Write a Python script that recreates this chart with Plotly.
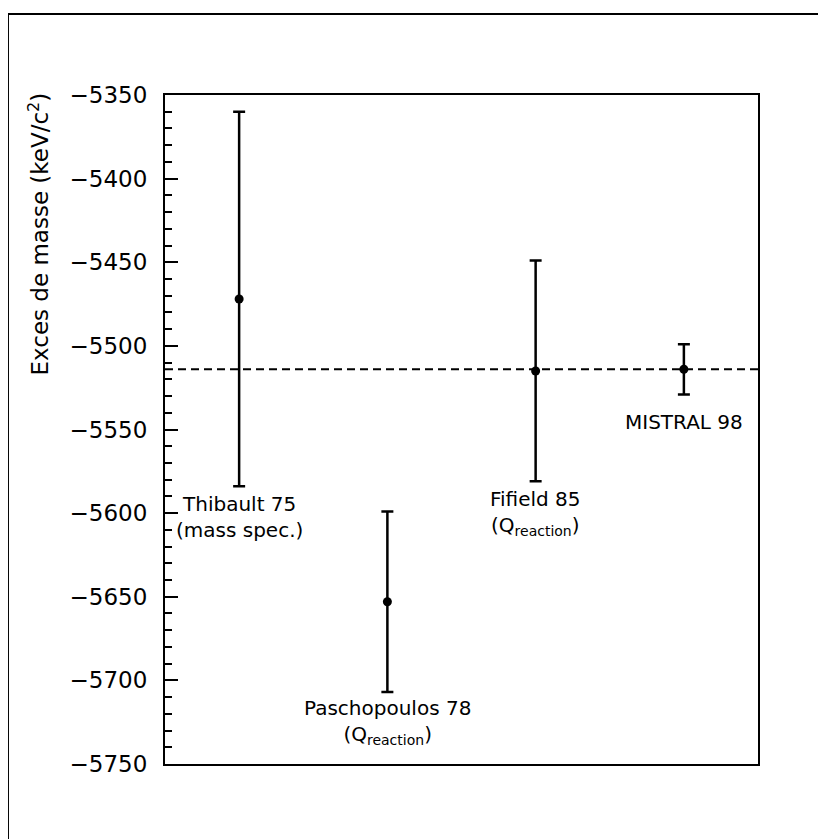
"""
Mass excess measurements compared with the MISTRAL 98 value.
"""

import plotly.graph_objects as go

# ── Data ──
positions = [1, 2, 3, 4]
mass_excess = [-5472, -5653, -5515, -5514]
errors = [112, 54, 66, 15]
names = ["Thibault 75", "Paschopoulos 78", "Fifield 85", "MISTRAL 98"]
methods = ["(mass spec.)", "(Q<sub>reaction</sub>)", "(Q<sub>reaction</sub>)", ""]
reference_value = -5514
tick_values = [-5350, -5400, -5450, -5500, -5550, -5600, -5650, -5700, -5750]

FONT = "DejaVu Sans"
# pixel gap between the bottom of each error bar and its label
label_shift = [-4, -2, -4, -14]

fig = go.Figure()

fig.add_trace(
    go.Scatter(
        x=positions,
        y=mass_excess,
        mode="markers",
        marker=dict(color="black", size=9),
        error_y=dict(type="data", array=errors, color="black", thickness=2.5, width=6),
        showlegend=False,
    )
)

# reference line (MISTRAL)
fig.add_hline(y=reference_value, line_dash="8px,5px", line_color="black", line_width=2)

# labels under each error bar
for x, y, e, name, method, dy in zip(positions, mass_excess, errors, names, methods, label_shift):
    text = name if not method else f"{name}<br>{method}"
    fig.add_annotation(
        x=x, y=y - e, text=text, showarrow=False,
        xanchor="center", yanchor="top", yshift=dy,
        font=dict(family=FONT, size=20, color="black"),
    )

# y title, top-aligned like the original
fig.add_annotation(
    xref="paper", yref="paper", x=-0.2125, y=1.0075,
    xanchor="center", yanchor="top", textangle=-90,
    text="Exces de masse (keV/c<sup>2</sup>)", showarrow=False,
    font=dict(family=FONT, size=23, color="black"),
)

# outer frame (left + top lines)
fig.add_shape(type="line", xref="paper", yref="paper",
              x0=-0.2648, x1=1.2, y0=1.1211, y1=1.1211,
              line=dict(color="black", width=2))
fig.add_shape(type="line", xref="paper", yref="paper",
              x0=-0.2648, x1=-0.2648, y0=-0.2, y1=1.1211,
              line=dict(color="black", width=2))

fig.update_layout(
    width=826,
    height=839,
    margin=dict(l=157, r=76, t=87, b=83),
    paper_bgcolor="white",
    plot_bgcolor="white",
    font=dict(family=FONT, color="black"),
)

fig.update_xaxes(
    range=[0.5, 4.5],
    showticklabels=False,
    ticks="",
    showgrid=False,
    zeroline=False,
    showline=True, mirror=True, linecolor="black", linewidth=2,
)

fig.update_yaxes(
    range=[-5750, -5350],
    tickvals=tick_values,
    ticktext=[f"\u2212{abs(v)}" for v in tick_values],
    ticks="inside", ticklen=13, tickwidth=1.5, tickcolor="black",
    minor=dict(ticks="inside", ticklen=7, dtick=10, tickwidth=1.5, tickcolor="black", showgrid=False),
    tickfont=dict(family=FONT, size=23, color="black"),
    ticklabelstandoff=11,
    showgrid=False,
    zeroline=False,
    showline=True, mirror=True, linecolor="black", linewidth=2,
)

fig.write_html("out.html")
